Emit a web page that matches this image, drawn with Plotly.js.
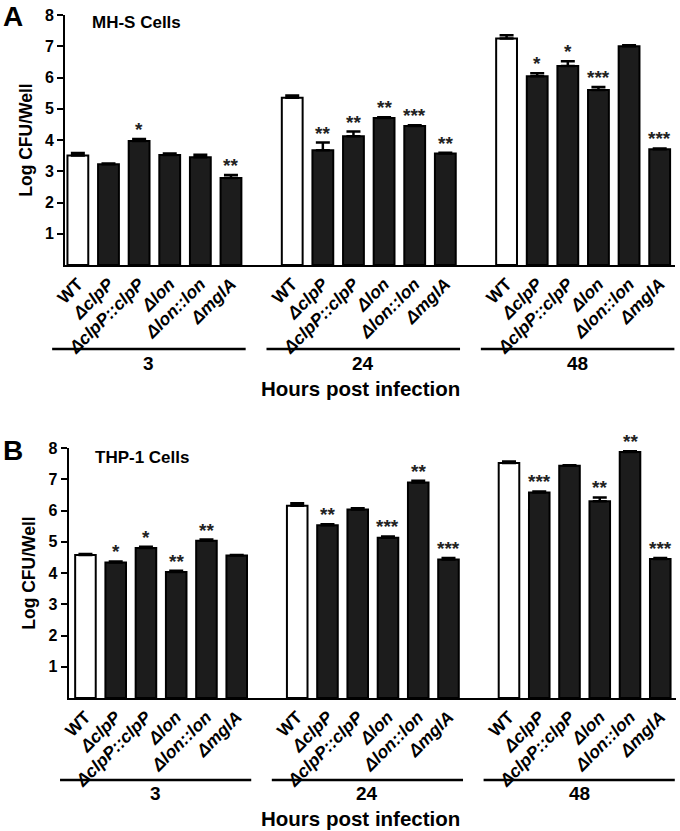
<!DOCTYPE html>
<html>
<head>
<meta charset="utf-8">
<script src="https://cdn.plot.ly/plotly-3.0.1.min.js"></script>
<style>html,body{margin:0;padding:0;background:#fff}#chart{width:680px;height:831px}</style>
</head>
<body>
<div id="chart"></div>
<script>
// ---- data ----
const categories = ['WT', 'ΔclpP', 'ΔclpP::clpP', 'Δlon', 'Δlon::lon', 'ΔmglA'];
const hours = ['3', '24', '48'];

// MH-S cells (panel A)
const mhs3 = [3.50, 3.22, 3.97, 3.52, 3.45, 2.78];
const mhs24 = [5.35, 3.67, 4.12, 4.70, 4.45, 3.57];
const mhs48 = [7.25, 6.04, 6.37, 5.60, 7.00, 3.70];
const mhsErr3 = [0.08, 0.03, 0.06, 0.05, 0.08, 0.10];
const mhsErr24 = [0.07, 0.25, 0.15, 0.03, 0.02, 0.02];
const mhsErr48 = [0.10, 0.10, 0.15, 0.10, 0.03, 0.03];
const mhsStars3 = ['', '', '*', '', '', '**'];
const mhsStars24 = ['', '**', '**', '**', '***', '**'];
const mhsStars48 = ['', '*', '*', '***', '', '***'];

// THP-1 cells (panel B)
const thp3 = [4.58, 4.34, 4.80, 4.03, 5.03, 4.56];
const thp24 = [6.15, 5.53, 6.03, 5.13, 6.90, 4.43];
const thp48 = [7.52, 6.58, 7.43, 6.30, 7.87, 4.45];
const thpErr3 = [0.03, 0.03, 0.04, 0.04, 0.04, 0.02];
const thpErr24 = [0.08, 0.03, 0.04, 0.04, 0.05, 0.05];
const thpErr48 = [0.05, 0.03, 0.02, 0.12, 0.03, 0.03];
const thpStars3 = ['', '*', '*', '**', '**', ''];
const thpStars24 = ['', '**', '', '***', '**', '***'];
const thpStars48 = ['', '***', '', '**', '**', '***'];

const yTicks = [1, 2, 3, 4, 5, 6, 7, 8];

// ---- build ----
const FONT = 'Liberation Sans, Arial, Helvetica, sans-serif';
const GROUP_STEP = categories.length + 1;
const W = 680, H = 831;
const py = p => 1 - p / H;

function positions() {
  const xs = [];
  hours.forEach((h, g) => categories.forEach((c, i) => xs.push(g * GROUP_STEP + i)));
  return xs;
}
const xs = positions();
const tickText = [];
hours.forEach(() => categories.forEach(c => tickText.push(c === 'WT' ? c : '<i>' + c + '</i>')));

function barTrace(vals, errs, xa, ya) {
  const y = [].concat(...vals);
  const e = [].concat(...errs);
  const colors = [];
  hours.forEach(() => categories.forEach(c => colors.push(c === 'WT' ? '#ffffff' : '#1c1c1c')));
  return {
    type: 'bar', x: xs, y: y, xaxis: xa, yaxis: ya, width: 0.68,
    marker: {color: colors, line: {color: '#000', width: 2}},
    error_y: {type: 'data', symmetric: false, array: e, arrayminus: e.map(() => 0),
              color: '#000', thickness: 2.5, width: 7},
    hoverinfo: 'none', showlegend: false
  };
}

const traces = [
  barTrace([mhs3, mhs24, mhs48], [mhsErr3, mhsErr24, mhsErr48], 'x', 'y'),
  barTrace([thp3, thp24, thp48], [thpErr3, thpErr24, thpErr48], 'x2', 'y2')
];

const panels = [
  {xa: 'x', ya: 'y', xdom: [65 / W, 675 / W], xr: [-0.42, 19.5], ydom: [py(265), py(15)],
   vals: [mhs3, mhs24, mhs48], errs: [mhsErr3, mhsErr24, mhsErr48], stars: [mhsStars3, mhsStars24, mhsStars48],
   lineY: 349, groupY: 363, hoursY: 388, letter: 'A', letterY: 16, cell: 'MH-S Cells', cellX: 90, cellY: 22},
  {xa: 'x2', ya: 'y2', xdom: [68.5 / W, 676 / W], xr: [-0.56, 19.52], ydom: [py(698), py(448)],
   vals: [thp3, thp24, thp48], errs: [thpErr3, thpErr24, thpErr48], stars: [thpStars3, thpStars24, thpStars48],
   lineY: 780, groupY: 793, hoursY: 818, letter: 'B', letterY: 450, cell: 'THP-1 Cells', cellX: 93, cellY: 457}
];

const annotations = [], shapes = [];
const layout = {
  width: W, height: H, margin: {l: 0, r: 0, t: 0, b: 0},
  paper_bgcolor: '#fff', plot_bgcolor: '#fff',
  font: {family: FONT, color: '#000'},
  bargap: 0, showlegend: false
};

panels.forEach((p, k) => {
  const xn = k === 0 ? 'xaxis' : 'xaxis2';
  const yn = k === 0 ? 'yaxis' : 'yaxis2';
  layout[xn] = {
    domain: p.xdom, range: p.xr, anchor: p.ya, showgrid: false, zeroline: false,
    showline: true, linecolor: '#000', linewidth: 2, ticks: '',
    tickmode: 'array', tickvals: xs, ticktext: tickText, tickangle: -45,
    tickfont: {family: FONT, size: 17.5, weight: 'bold', color: '#000'}, fixedrange: true
  };
  layout[yn] = {
    domain: p.ydom, range: [0, 8], anchor: p.xa, showgrid: false, zeroline: false,
    showline: true, linecolor: '#000', linewidth: 2, ticks: 'outside', ticklen: 6, tickwidth: 2,
    tickcolor: '#000', tickmode: 'array', tickvals: yTicks,
    tickfont: {family: FONT, size: 16, weight: 'bold', color: '#000'},
    title: {text: 'Log CFU/Well', font: {family: FONT, size: 17.5, weight: 'bold', color: '#000'}, standoff: 8},
    fixedrange: true
  };
  const toPaper = s => p.xdom[0] + (s - p.xr[0]) / (p.xr[1] - p.xr[0]) * (p.xdom[1] - p.xdom[0]);
  hours.forEach((h, g) => {
    const first = g * GROUP_STEP, last = first + categories.length - 1;
    const x0 = toPaper(first - 0.84), x1 = Math.min(1, toPaper(last + 0.48));
    shapes.push({type: 'line', xref: 'paper', yref: 'paper', x0: x0, x1: x1,
                 y0: py(p.lineY), y1: py(p.lineY), line: {color: '#000', width: 2.5}});
    annotations.push({xref: 'paper', yref: 'paper', x: (x0 + x1) / 2, y: py(p.groupY),
      text: h, showarrow: false, xanchor: 'center', yanchor: 'middle',
      font: {family: FONT, size: 19, weight: 'bold', color: '#000'}});
    categories.forEach((c, i) => {
      const s = p.stars[g][i];
      if (s) annotations.push({xref: p.xa, yref: p.ya, x: first + i, y: p.vals[g][i] + p.errs[g][i],
        text: s, showarrow: false, xanchor: 'center', yanchor: 'bottom', yshift: -3,
        font: {family: FONT, size: 19, weight: 'bold', color: '#222'}});
    });
  });
  annotations.push({xref: 'paper', yref: 'paper', x: 360 / W, y: py(p.hoursY),
    text: 'Hours post infection', showarrow: false, xanchor: 'center', yanchor: 'middle',
    font: {family: FONT, size: 20.5, weight: 'bold', color: '#000'}});
  annotations.push({xref: 'paper', yref: 'paper', x: 1 / W, y: py(p.letterY),
    text: p.letter, showarrow: false, xanchor: 'left', yanchor: 'middle',
    font: {family: FONT, size: 28, weight: 'bold', color: '#000'}});
  annotations.push({xref: 'paper', yref: 'paper', x: p.cellX / W, y: py(p.cellY),
    text: p.cell, showarrow: false, xanchor: 'left', yanchor: 'middle',
    font: {family: FONT, size: 17, weight: 'bold', color: '#000'}});
});
layout.annotations = annotations;
layout.shapes = shapes;

Plotly.newPlot('chart', traces, layout, {staticPlot: true, displayModeBar: false});
</script>
</body>
</html>
